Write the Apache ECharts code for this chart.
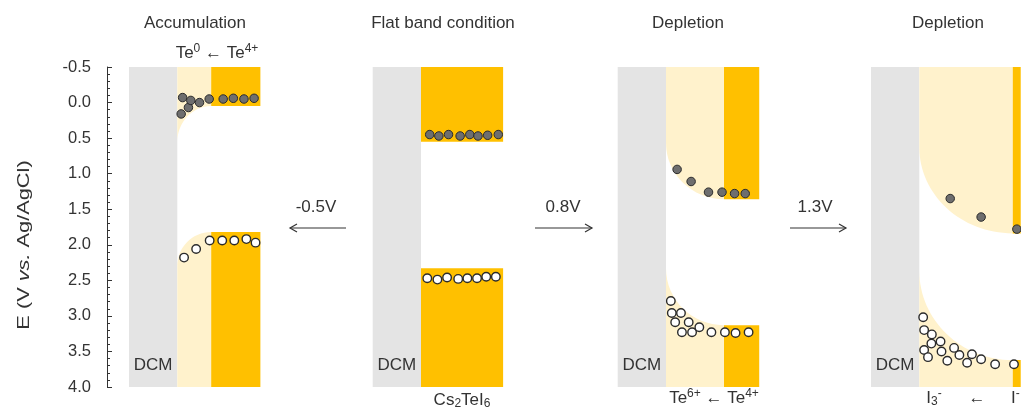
<!DOCTYPE html>
<html>
<head>
<meta charset="utf-8">
<script src="https://cdn.jsdelivr.net/npm/echarts@6/dist/echarts.min.js"></script>
<style>
  html, body { margin: 0; padding: 0; background: #fff; }
  #chart { width: 1021px; height: 408px; }
</style>
</head>
<body>
<div id="chart"></div>
<script>
// Energy axis, V vs. Ag/AgCl (drawn increasing downward)
const energyTicks = [-0.5, 0.0, 0.5, 1.0, 1.5, 2.0, 2.5, 3.0, 3.5, 4.0];
const panelTitles = ['Accumulation', 'Flat band condition', 'Depletion', 'Depletion'];
const biasLabels = ['-0.5V', '0.8V', '1.3V'];

// Band edges per panel; x = distance from the DCM interface, E in V
const bulkStart = [0.70, 0.00, 1.20, 1.93];
const bulkEnd   = [1.72, 1.70, 1.93, 2.10];
const cbBulk    = [0.05, 0.55, 1.36, 1.84];
const vbBulk    = [1.82, 2.33, 3.13, 3.62];
const cbSurface = [0.56, 0.55, 0.57, 0.63];
const vbSurface = [2.30, 2.33, 2.33, 2.36];

// Electron (filled) and hole (open) states per panel, [x, E]
const electrons1 = [[0.08, 0.16], [0.11, -0.07], [0.23, 0.07], [0.28, -0.03], [0.46, 0.00], [0.66, -0.05], [0.95, -0.05], [1.16, -0.06], [1.38, -0.05], [1.59, -0.06]];
const holes1 = [[0.14, 2.18], [0.39, 2.06], [0.67, 1.94], [0.93, 1.94], [1.18, 1.94], [1.43, 1.92], [1.62, 1.97]];
const electrons2 = [[0.18, 0.45], [0.37, 0.47], [0.57, 0.45], [0.81, 0.47], [1.01, 0.45], [1.18, 0.47], [1.38, 0.46], [1.60, 0.45]];
const holes2 = [[0.13, 2.47], [0.34, 2.49], [0.54, 2.46], [0.77, 2.48], [0.96, 2.47], [1.16, 2.47], [1.35, 2.45], [1.55, 2.45]];
const electrons3 = [[0.23, 0.94], [0.52, 1.11], [0.88, 1.26], [1.16, 1.26], [1.42, 1.28], [1.64, 1.28]];
const holes3 = [[0.10, 2.79], [0.12, 2.96], [0.31, 2.96], [0.19, 3.09], [0.47, 3.09], [0.33, 3.23], [0.54, 3.23], [0.69, 3.16], [0.94, 3.23], [1.22, 3.23], [1.44, 3.24], [1.71, 3.23]];
const electrons4 = [[0.64, 1.35], [1.28, 1.61], [2.02, 1.78]];
const holes4 = [[0.08, 3.02], [0.10, 3.20], [0.26, 3.26], [0.44, 3.36], [0.25, 3.39], [0.10, 3.48], [0.46, 3.50], [0.72, 3.45], [0.18, 3.58], [0.83, 3.55], [1.09, 3.54], [0.58, 3.63], [0.99, 3.66], [1.28, 3.61], [1.57, 3.68], [1.96, 3.68]];

const electrons = [electrons1, electrons2, electrons3, electrons4];
const holes = [holes1, holes2, holes3, holes4];

// Layout
const FONT = '"Liberation Sans", Arial, sans-serif';
const TEXT = '#333';
const PX_PER_UNIT = 48.3;
const panelLeft = [129, 372.7, 617.7, 871];
const X_MIN = -1;
const E_MIN = energyTicks[0];
const E_MAX = energyTicks[energyTicks.length - 1];
const GRID_TOP = 67, GRID_H = 320;

const GRAY = '#e4e4e4', GOLD = '#ffc000', PALE = '#fff2cc';

// Kinds of band pieces
const DCM = 0, BULK = 1, CB_BEND = 2, VB_BEND = 3;

function bandPieces(i) {
  const items = [
    [DCM, X_MIN, 0, E_MIN, E_MAX],
    [BULK, bulkStart[i], bulkEnd[i], E_MIN, cbBulk[i]],
    [BULK, bulkStart[i], bulkEnd[i], vbBulk[i], E_MAX]
  ];
  if (bulkStart[i] > 0) {
    items.push([CB_BEND, 0, bulkStart[i], cbSurface[i], cbBulk[i]]);
    items.push([VB_BEND, 0, bulkStart[i], vbSurface[i], vbBulk[i]]);
  }
  return items;
}

const K = 0.5523;
function renderBand(params, api) {
  const kind = api.value(0);
  const x0 = api.value(1), x1 = api.value(2), eA = api.value(3), eB = api.value(4);
  if (kind === DCM || kind === BULK) {
    const p0 = api.coord([x0, eA]);
    const p1 = api.coord([x1, eB]);
    const el = {
      type: 'rect',
      shape: { x: p0[0], y: p0[1], width: p1[0] - p0[0], height: p1[1] - p0[1] },
      style: { fill: kind === DCM ? GRAY : GOLD }
    };
    if (kind === DCM) {
      el.textContent = { style: { text: 'DCM', fontSize: 17, fontFamily: FONT, fill: TEXT } };
      el.textConfig = { position: 'insideBottom', distance: 13 };
    }
    return el;
  }
  // Bent band: quarter-ellipse from (x0, surface) to (x1, bulk), centred at (x1, surface)
  const s = api.coord([x0, eA]);
  const b = api.coord([x1, eB]);
  const edgeE = kind === CB_BEND ? E_MIN : E_MAX;
  const yEdge = api.coord([x0, edgeE])[1];
  const rx = b[0] - s[0];
  const ry = b[1] - s[1];
  const path = 'M' + s[0] + ',' + yEdge +
    ' L' + s[0] + ',' + s[1] +
    ' C' + s[0] + ',' + (s[1] + K * ry) + ' ' + (b[0] - K * rx) + ',' + b[1] + ' ' + b[0] + ',' + b[1] +
    ' L' + b[0] + ',' + yEdge + ' Z';
  return { type: 'path', shape: { pathData: path }, style: { fill: PALE } };
}

const grids = [], xAxes = [], yAxes = [], series = [];
for (let i = 0; i < 4; i++) {
  grids.push({ left: panelLeft[i], top: GRID_TOP, height: GRID_H, width: (bulkEnd[i] - X_MIN) * PX_PER_UNIT });
  xAxes.push({ type: 'value', gridIndex: i, min: X_MIN, max: bulkEnd[i], show: false });
  yAxes.push({
    type: 'value', gridIndex: i, inverse: true, position: 'left',
    min: E_MIN, max: E_MAX, interval: energyTicks[1] - energyTicks[0],
    show: i === 0,
    offset: 22,
    axisLine: { show: true, onZero: false, lineStyle: { color: TEXT, width: 1 } },
    axisTick: { show: true, inside: true, length: 5, lineStyle: { color: TEXT } },
    minorTick: { show: true, splitNumber: 5, length: 3, lineStyle: { color: TEXT } },
    splitLine: { show: false },
    axisLabel: {
      fontSize: 16.5, fontFamily: FONT, color: TEXT, margin: 16,
      showMinLabel: true, showMaxLabel: true,
      formatter: v => v.toFixed(1)
    }
  });
  series.push({
    type: 'custom', xAxisIndex: i, yAxisIndex: i, z: 1,
    renderItem: renderBand,
    encode: { x: [1, 2], y: [3, 4] },
    data: bandPieces(i),
    silent: true
  });
  series.push({
    type: 'scatter', xAxisIndex: i, yAxisIndex: i, z: 3,
    symbol: 'circle', symbolSize: 8.5,
    itemStyle: { color: '#6e6e6e', borderColor: '#2b2b2b', borderWidth: 1, opacity: 1 },
    data: electrons[i], silent: true
  });
  series.push({
    type: 'scatter', xAxisIndex: i, yAxisIndex: i, z: 3,
    symbol: 'circle', symbolSize: 8.5,
    itemStyle: { color: '#ffffff', borderColor: '#2b2b2b', borderWidth: 1.4, opacity: 1 },
    data: holes[i], silent: true
  });
}

// Text with super/subscripts
const rich = {
  n: { fontSize: 17, fontFamily: FONT, fill: TEXT, lineHeight: 20 },
  sup: { fontSize: 12, fontFamily: FONT, fill: TEXT, verticalAlign: 'top', lineHeight: 12 },
  sub: { fontSize: 12, fontFamily: FONT, fill: TEXT, verticalAlign: 'bottom', lineHeight: 12 },
  it: { fontSize: 17, fontFamily: FONT, fill: TEXT, fontStyle: 'italic', lineHeight: 20 }
};
function label(x, y, text, align) {
  return {
    type: 'text', x: x, y: y, silent: true,
    style: { text: text, rich: rich, align: align || 'center', verticalAlign: 'middle', fontSize: 17, fontFamily: FONT, fill: TEXT }
  };
}
function arrow(x1, x2, y) {
  // arrowhead drawn at x2
  const d = x2 > x1 ? -1 : 1;
  return {
    type: 'group', silent: true,
    children: [
      { type: 'line', shape: { x1: x1, y1: y, x2: x2, y2: y }, style: { stroke: TEXT, lineWidth: 1.2 } },
      { type: 'polyline', shape: { points: [[x2 + d * 7, y - 4], [x2, y], [x2 + d * 7, y + 4]] }, style: { stroke: TEXT, lineWidth: 1.2, fill: null } }
    ]
  };
}

const titleX = [195, 443, 688, 948];
const biasX = [316, 563, 815];
const graphic = [];
panelTitles.forEach((t, i) => graphic.push(label(titleX[i], 23, '{n|' + t + '}')));
biasLabels.forEach((t, i) => graphic.push(label(biasX[i], 207, '{n|' + t + '}')));
graphic.push(arrow(346, 290, 228));
graphic.push(arrow(535, 592, 228));
graphic.push(arrow(790, 846, 228));
graphic.push(label(217, 53, '{n|Te}{sup|0}{n| ← Te}{sup|4+}'));
graphic.push(label(462, 400, '{n|Cs}{sub|2}{n|TeI}{sub|6}'));
graphic.push(label(714, 398, '{n|Te}{sup|6+}{n| ← Te}{sup|4+}'));
graphic.push(label(934, 398, '{n|I}{sub|3}{sup|-}'));
graphic.push(label(977, 398, '{n|←}'));
graphic.push(label(1011, 398, '{n|I}{sup|-}', 'left'));
graphic.push({
  type: 'text', x: 24, y: 245, rotation: Math.PI / 2, scaleX: 1.28, silent: true,
  style: { text: '{n|E (V }{it|vs.}{n| Ag/AgCl)}', rich: rich, align: 'center', verticalAlign: 'middle', fontSize: 17, fontFamily: FONT, fill: TEXT }
});

const chart = echarts.init(document.getElementById('chart'), null, { renderer: 'canvas' });
chart.setOption({
  animation: false,
  backgroundColor: '#fff',
  grid: grids,
  xAxis: xAxes,
  yAxis: yAxes,
  series: series,
  graphic: graphic
});
</script>
</body>
</html>
